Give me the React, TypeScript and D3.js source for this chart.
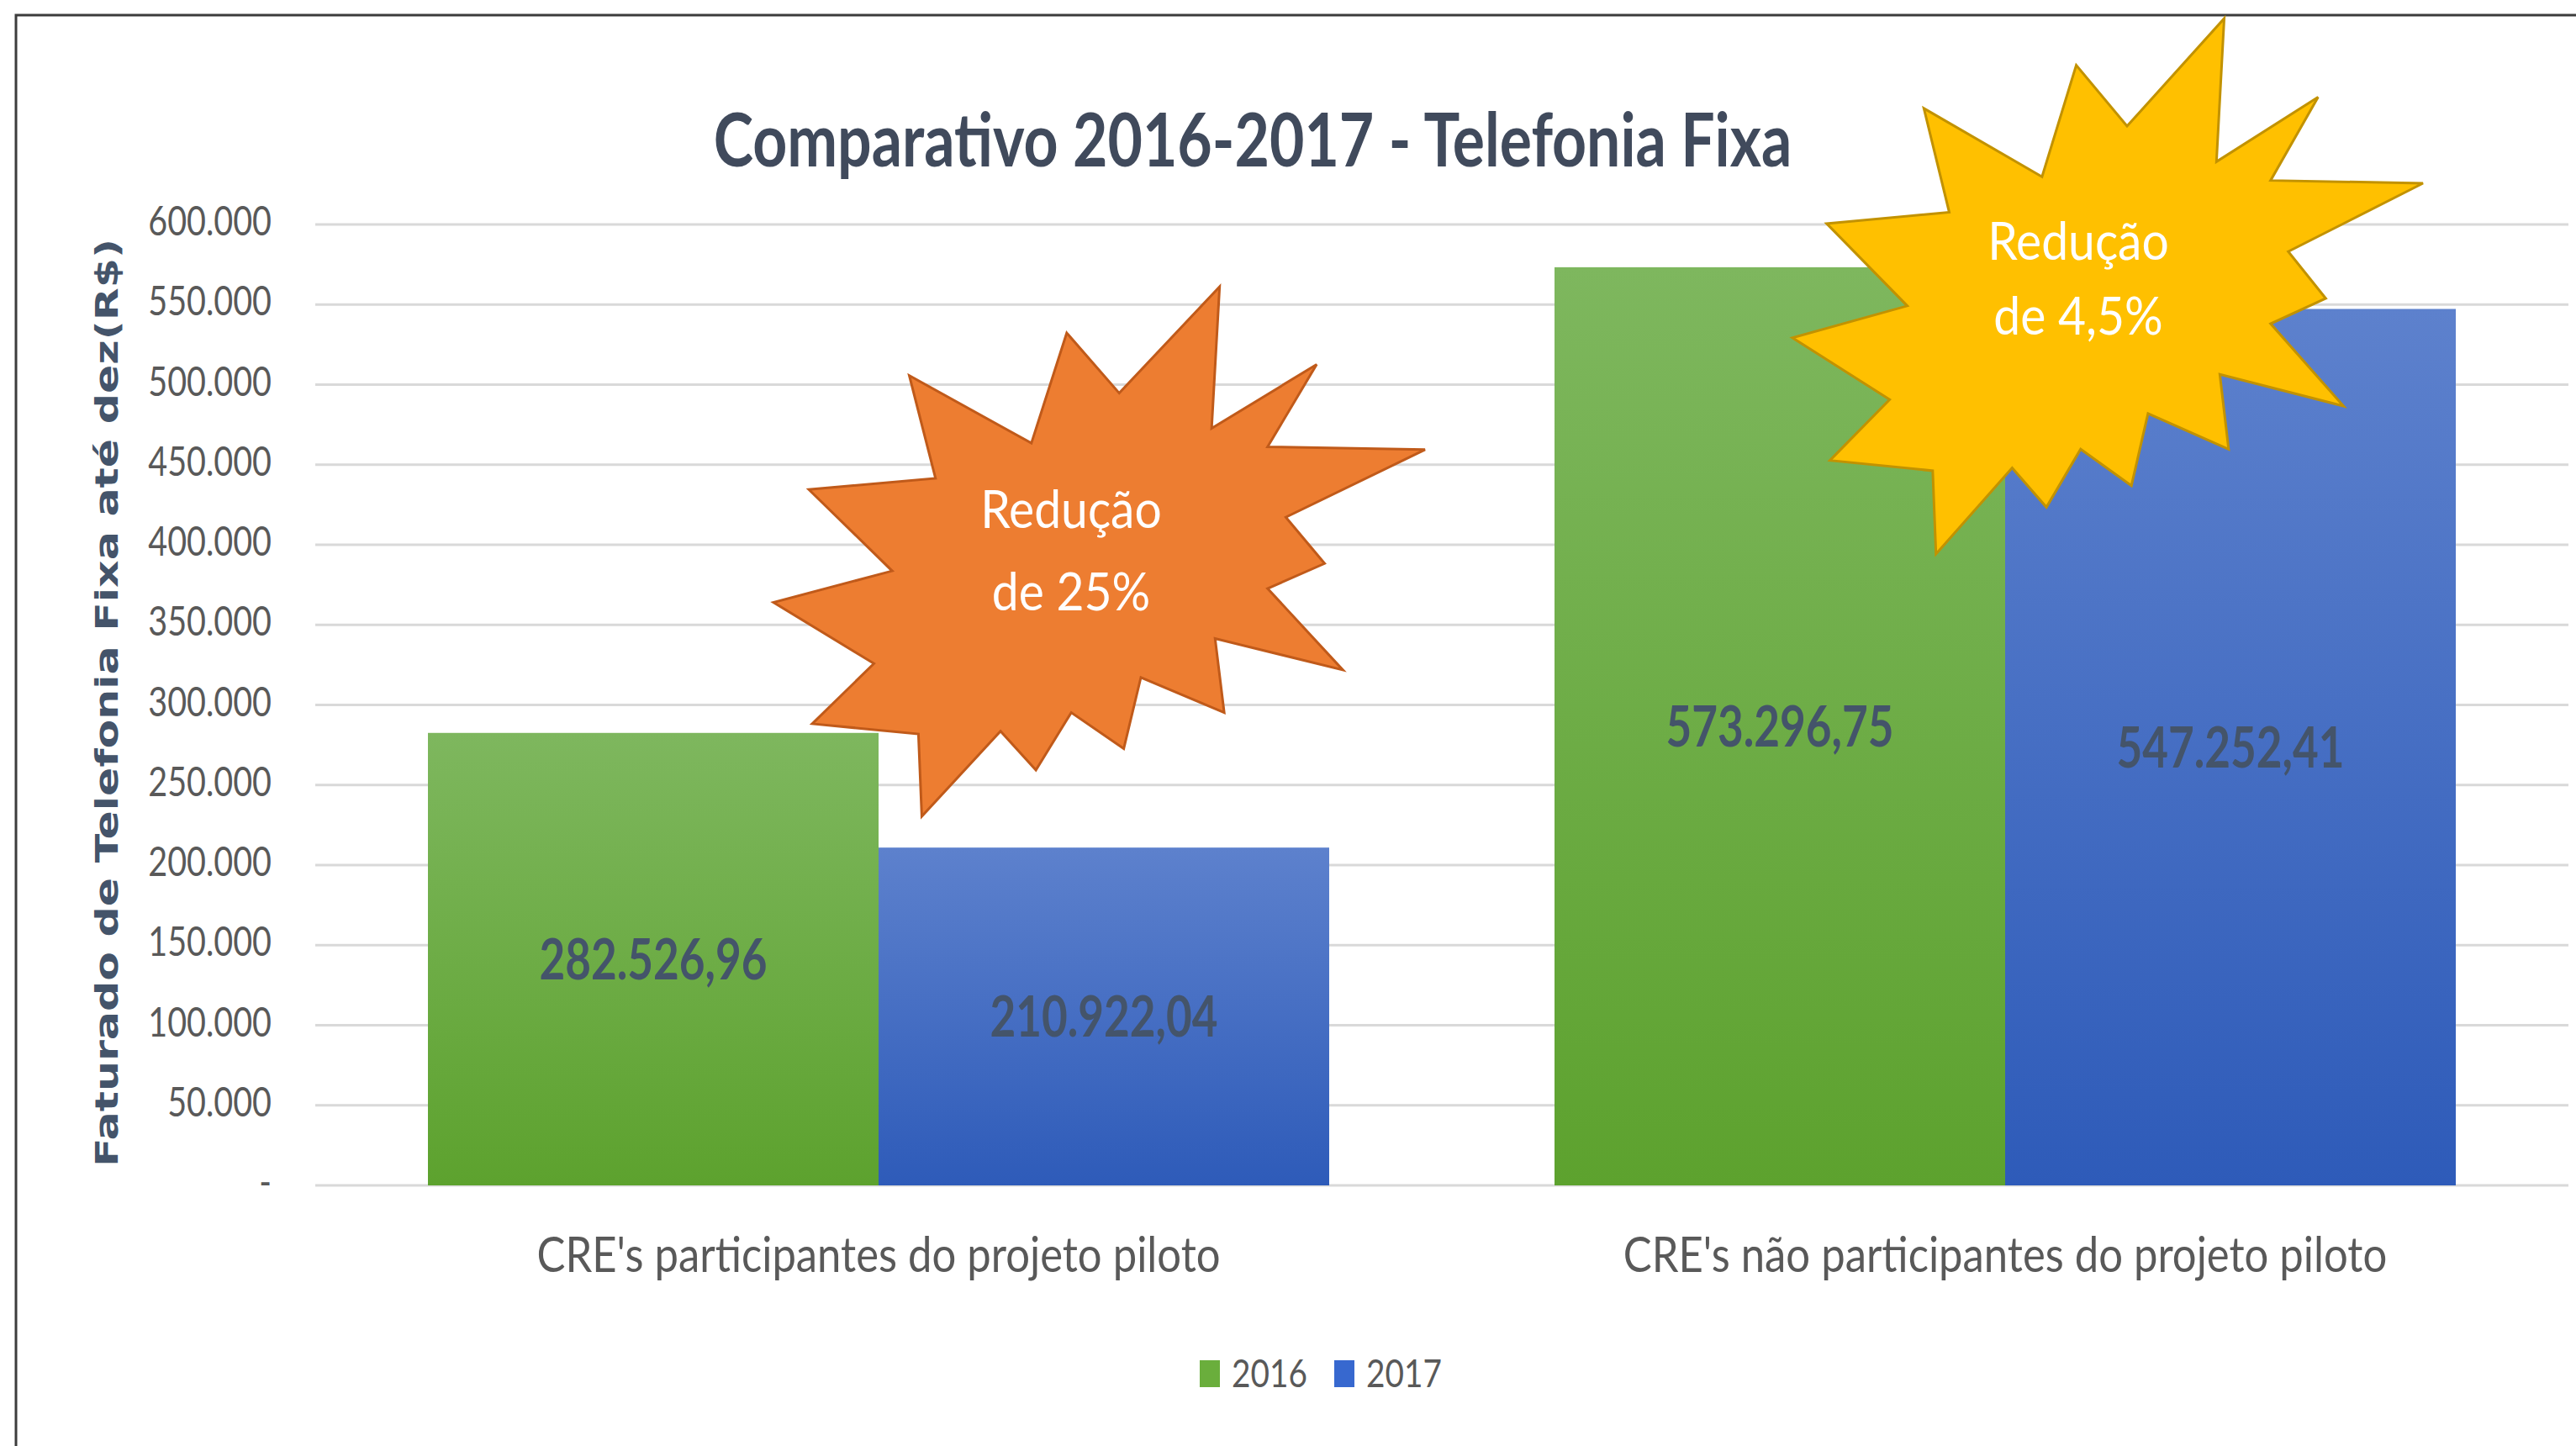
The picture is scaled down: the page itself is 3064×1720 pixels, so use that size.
import React from 'react';
import * as d3 from 'd3';

// data
const categories = ["CRE's participantes do projeto piloto", "CRE's não participantes do projeto piloto"];
const years = ['2016', '2017'];
const values2016 = [282526.96, 573296.75];
const values2017 = [210922.04, 547252.41];
const yTicks = [0, 50000, 100000, 150000, 200000, 250000, 300000, 350000, 400000, 450000, 500000, 550000, 600000];
const burstLines = [
  ['Redução', 'de 25%'],
  ['Redução', 'de 4,5%'],
];

// Excel "Explosion 2" outline, in its own 21600 box
const SEAL = [
  [14790, 0], [14525, 5777], [18007, 3172], [16380, 6532], [21600, 6645], [16985, 9402],
  [18270, 11290], [16380, 12310], [18877, 15632], [14640, 14350], [14942, 17370], [12180, 15935],
  [11612, 18842], [9872, 17370], [8700, 19712], [7527, 18125], [4917, 21600], [4805, 18240],
  [1285, 17825], [3330, 15370], [0, 12877], [3935, 11592], [1172, 8270], [5372, 7817],
  [4502, 3625], [8550, 6382], [9722, 1887], [11462, 4342],
];

const W = 3064;
const H = 1720;
const FONT = 'Lato, sans-serif';
const plot = { left: 375, right: 3055, top: 267, bottom: 1410 };

const burstBoxes = [
  { x0: 920, x1: 1695, y0: 341, y1: 971, fill: '#ED7D31', stroke: '#C05A1A', cx: 1274, lines: [628, 726] },
  { x0: 2132, x1: 2882, y0: 22, y1: 659, fill: '#FFC000', stroke: '#C29200', cx: 2472, lines: [309, 398] },
];

const fmt = d3.formatLocale({ decimal: ',', thousands: '.', grouping: [3], currency: ['R$', ''] });
const tickFmt = (v: number) => (v === 0 ? '-' : fmt.format(',.0f')(v));
const valFmt = fmt.format(',.2f');

// text stretched vertically like the source picture
function SText({ x, y, k, children, ...rest }: any) {
  return (
    <text transform={`translate(${x},${y}) scale(1,${k})`} {...rest}>
      {children}
    </text>
  );
}

export default function App() {
  const x0 = d3.scaleBand<string>().domain(categories).range([plot.left, plot.right]);
  const x1 = d3.scaleBand<string>().domain(years).range([0, x0.bandwidth()]).paddingOuter(0.25);
  const y = d3.scaleLinear().domain([0, 600000]).range([plot.bottom, plot.top]);
  const series = [values2016, values2017];

  const seal = (b: any) => {
    const sx = d3.scaleLinear().domain([0, 21600]).range([b.x0, b.x1]);
    const sy = d3.scaleLinear().domain([0, 21600]).range([b.y0, b.y1]);
    return d3.line().curve(d3.curveLinearClosed)(SEAL.map(([a, c]) => [sx(a), sy(c)]));
  };

  return (
    <svg width={W} height={H} style={{ position: 'absolute', left: 0, top: 0, display: 'block' }}>
      <defs>
        <linearGradient id="g2016" x1="0" y1="0" x2="0" y2="1">
          <stop offset="0" stopColor="#7EB75E" />
          <stop offset="1" stopColor="#5DA22E" />
        </linearGradient>
        <linearGradient id="g2017" x1="0" y1="0" x2="0" y2="1">
          <stop offset="0" stopColor="#5D81CD" />
          <stop offset="1" stopColor="#2E5BB9" />
        </linearGradient>
      </defs>
      <rect width={W} height={H} fill="#fff" />
      <path d={`M19,${H} V18 H${W}`} fill="none" stroke="#3c3c3c" strokeWidth={3} />

      <SText x={1490} y={198} k={1.24} fontFamily={FONT} fontWeight="bold" fontSize={71.5} fill="#404A5C" textAnchor="middle">
        Comparativo 2016-2017 - Telefonia Fixa
      </SText>

      {yTicks.map((t) => (
        <g key={t}>
          <line x1={plot.left} x2={plot.right} y1={y(t)} y2={y(t)} stroke="#D9D9D9" strokeWidth={3} />
          <SText x={323} y={y(t) + 13} k={1.24} fontFamily={FONT} fontSize={39.5} fill="#595959" textAnchor="end">
            {tickFmt(t)}
          </SText>
        </g>
      ))}

      <text
        transform={`translate(140,836) rotate(-90)`}
        fontFamily="DejaVu Sans, sans-serif"
        fontWeight="bold"
        fontSize={38}
        fill="#44546A"
        textAnchor="middle"
        textLength={1104}
        lengthAdjust="spacingAndGlyphs"
      >
        Faturado de Telefonia Fixa até dez(R$)
      </text>

      {categories.map((c, i) => (
        <g key={c}>
          {years.map((yr, j) => {
            const v = series[j][i];
            const bx = (x0(c) as number) + (x1(yr) as number);
            const top = y(v);
            return (
              <g key={yr}>
                <rect x={bx} y={top} width={x1.bandwidth()} height={y(0) - top} fill={`url(#g${yr})`} />
                <SText
                  x={bx + x1.bandwidth() / 2}
                  y={(top + y(0)) / 2 + 24}
                  k={1.25}
                  fontFamily={FONT}
                  fontWeight="bold"
                  fontSize={53}
                  fill="#44546A"
                  textAnchor="middle"
                >
                  {valFmt(v)}
                </SText>
              </g>
            );
          })}
          <SText
            x={(x0(c) as number) + x0.bandwidth() / 2}
            y={1513}
            k={1.15}
            fontFamily={FONT}
            fontSize={50.8}
            fill="#595959"
            textAnchor="middle"
          >
            {c}
          </SText>
        </g>
      ))}

      {burstBoxes.map((b, i) => (
        <g key={i}>
          <path d={seal(b) as string} fill={b.fill} stroke={b.stroke} strokeWidth={3} strokeLinejoin="miter" />
          {burstLines[i].map((ln, k) => (
            <SText key={k} x={b.cx} y={b.lines[k]} k={1.08} fontFamily={FONT} fontSize={57} fill="#FFFFFF" textAnchor="middle">
              {ln}
            </SText>
          ))}
        </g>
      ))}

      {/* legend */}
      {years.map((yr, j) => {
        const lx = j === 0 ? 1427 : 1587;
        return (
          <g key={yr}>
            <rect x={lx} y={1618} width={24} height={32} fill={j === 0 ? '#6AAE3C' : '#3768CF'} />
            <SText x={lx + 38} y={1650} k={1.18} fontFamily={FONT} fontSize={38.8} fill="#595959">
              {yr}
            </SText>
          </g>
        );
      })}
    </svg>
  );
}
